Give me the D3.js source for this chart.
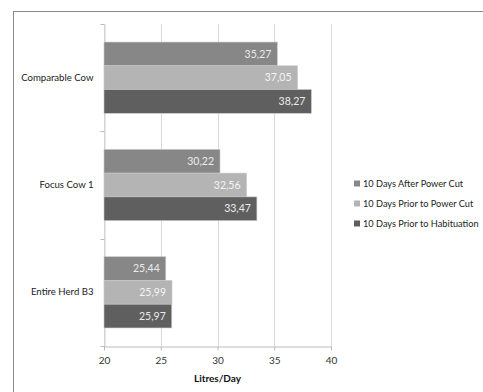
<!DOCTYPE html>
<html><head><meta charset="utf-8">
<script src="https://cdn.jsdelivr.net/npm/d3@7"></script>
<style>body{margin:0;background:#fff;}svg{display:block;font-family:Lato,"Open Sans",sans-serif;}</style>
</head><body><svg id="c" width="483" height="392"></svg>
<script>
const categories = ["Comparable Cow", "Focus Cow 1", "Entire Herd B3"];
const seriesNames = ["10 Days After Power Cut", "10 Days Prior to Power Cut", "10 Days Prior to Habituation"];
const afterPowerCut = [35.27, 30.22, 25.44];
const priorPowerCut = [37.05, 32.56, 25.99];
const priorHabituation = [38.27, 33.47, 25.97];
const xTicks = [20, 25, 30, 35, 40];
const colors = ["#878787", "#b4b4b4", "#5f5f5f"];
const seriesValues = [afterPowerCut, priorPowerCut, priorHabituation];

const svg = d3.select("#c");
svg.append("rect").attr("x", 13.5).attr("y", 11.5).attr("width", 500).attr("height", 400)
  .attr("fill", "#fff").attr("stroke", "#8a8a8a").attr("stroke-width", 1);

const x = d3.scaleLinear().domain([20, 40]).range([104, 331]);
const y = d3.scaleBand().domain(categories).range([24, 346]).paddingInner(0).paddingOuter(0);
const inner = d3.scaleBand().domain(d3.range(3)).range([0, y.bandwidth()]).paddingOuter(0.76).paddingInner(0);

// gridlines
svg.append("g").selectAll("line").data(xTicks).join("line")
  .attr("x1", d => Math.round(x(d)) + 0.5).attr("x2", d => Math.round(x(d)) + 0.5)
  .attr("y1", 24).attr("y2", 346).attr("stroke", "#d9d9d9");

// category axis
const yAxis = svg.append("g").attr("transform", "translate(104.5,0)")
  .call(d3.axisLeft(y).tickSize(0).tickPadding(11));
yAxis.select(".domain").attr("stroke", "#d0d0d0");
yAxis.selectAll("text").attr("font-size", 9.6).attr("fill", "#222").attr("font-family", "Lato");
yAxis.selectAll(".sep").data([24, 131, 239, 346]).join("line").attr("class", "sep")
  .attr("x1", -4).attr("x2", 0).attr("y1", d => d + 0.5).attr("y2", d => d + 0.5).attr("stroke", "#bbb");

// bars
const groups = svg.append("g").selectAll("g").data(categories).join("g")
  .attr("transform", d => `translate(0,${y(d)})`);
groups.each(function(cat, ci) {
  const g = d3.select(this);
  seriesValues.forEach((vals, si) => {
    const v = vals[ci];
    g.append("rect").attr("x", x(20)).attr("y", inner(si))
      .attr("width", x(v) - x(20)).attr("height", inner.bandwidth())
      .attr("fill", colors[si]).attr("stroke", "#c8c8c8").attr("stroke-width", 0.6);
    g.append("text").attr("x", x(v) - 6).attr("y", inner(si) + inner.bandwidth() / 2)
      .attr("dy", "0.35em").attr("text-anchor", "end").attr("font-size", 10.5)
      .attr("fill", si === 1 ? "#f4f4f4" : "#ececec")
      .text(d3.format(".2f")(v).replace(".", ","));
  });
});

// value axis
const xAxis = svg.append("g").attr("transform", "translate(0,346.5)")
  .call(d3.axisBottom(x).tickValues(xTicks).tickSize(4).tickPadding(6).tickSizeOuter(0));
xAxis.select(".domain").attr("stroke", "#bbb");
xAxis.selectAll(".tick line").attr("stroke", "#bbb");
xAxis.selectAll("text").attr("font-size", 10).attr("fill", "#333").attr("font-family", "Lato");
svg.append("path").attr("d", "M101,346.5H104").attr("stroke", "#bbb");

svg.append("text").attr("x", x(30)).attr("y", 382).attr("text-anchor", "middle")
  .attr("font-size", 10).attr("font-weight", "bold").attr("fill", "#111").text("Litres/Day");

// legend
const leg = svg.append("g").attr("transform", "translate(354,0)");
seriesNames.forEach((n, i) => {
  const yy = 184 + i * 20;
  leg.append("rect").attr("x", 0).attr("y", yy - 3.5).attr("width", 6).attr("height", 6).attr("fill", colors[i]);
  leg.append("text").attr("x", 9).attr("y", yy).attr("dy", "0.35em").attr("font-size", 9.2)
    .attr("fill", "#222").text(n);
});
</script></body></html>
